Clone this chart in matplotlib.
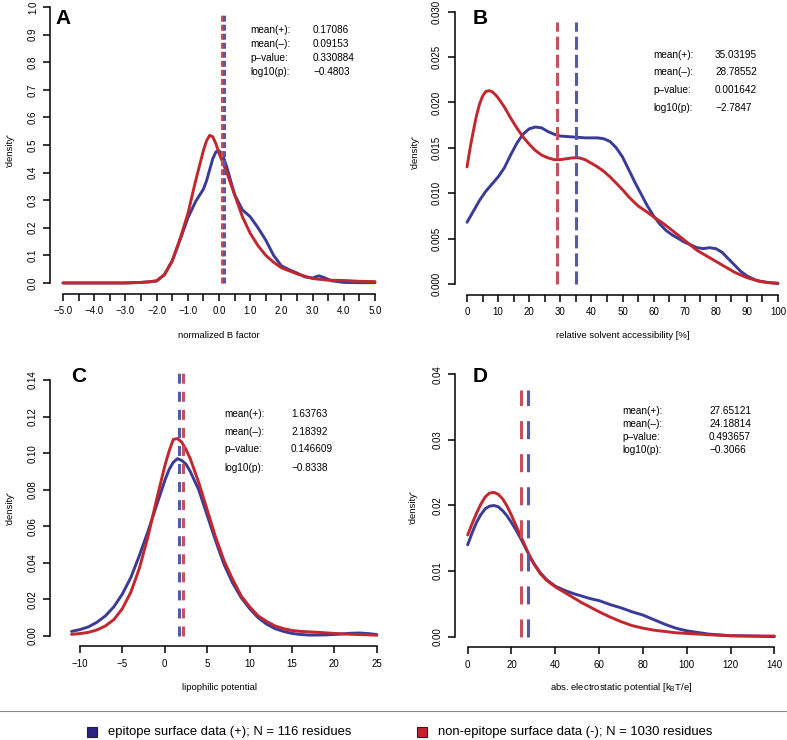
#Density comparison of epitope vs non-epitope surface residues, 4 panels
import matplotlib
matplotlib.use('Agg')
import matplotlib.pyplot as plt
from matplotlib.patches import Rectangle
from matplotlib.lines import Line2D

plt.rcParams['font.family'] = ['Liberation Sans', 'DejaVu Sans']
plt.rcParams['lines.scale_dashes'] = False

# ---- data ----
# A: normalized B factor
a_x_red = [-5, -4, -3, -2.5, -2.25, -2.0, -1.75, -1.5, -1.25, -1.0, -0.75, -0.5, -0.4, -0.3, -0.2, -0.1, 0.0,
           0.25, 0.5, 0.75, 1.0, 1.25, 1.5, 1.75, 2.0, 2.5, 3.0, 3.5, 4.0, 4.5, 5.0]
a_red = [0, 0, 0, 0.002, 0.004, 0.008, 0.03, 0.08, 0.16, 0.25, 0.37, 0.48, 0.515, 0.535, 0.53, 0.505, 0.47,
         0.40, 0.32, 0.24, 0.18, 0.135, 0.10, 0.075, 0.055, 0.033, 0.016, 0.010, 0.009, 0.006, 0.005]
a_x_blue = [-5, -4, -3, -2.5, -2.25, -2, -1.75, -1.5, -1.25, -1, -0.75, -0.5, -0.4, -0.3, -0.2, -0.1, 0, 0.1,
            0.25, 0.5, 0.75, 1.0, 1.25, 1.5, 1.75, 2.0, 2.25, 2.5, 2.75, 3.0, 3.2, 3.4, 3.6, 4.0, 4.5, 5.0]
a_blue = [0, 0, 0, 0.002, 0.004, 0.007, 0.03, 0.08, 0.155, 0.235, 0.295, 0.34, 0.37, 0.41, 0.45, 0.475, 0.478, 0.47,
          0.42, 0.32, 0.265, 0.24, 0.20, 0.155, 0.10, 0.062, 0.048, 0.036, 0.022, 0.018, 0.026, 0.018, 0.008,
          0.002, 0.001, 0.001]
a_stats = ['0.17086', '0.09153', '0.330884', '\u22120.4803']
a_means = [0.17086, 0.09153]

# B: relative solvent accessibility
b_x_red = [0, 1, 2, 3, 4, 5, 6, 7, 8, 9, 10, 12, 14, 16, 18, 20, 22, 24, 26, 28, 30, 32, 34, 36, 38, 40, 42, 44,
           46, 48, 50, 52, 55, 58, 60, 63, 66, 70, 74, 78, 82, 86, 90, 94, 97, 100]
b_red = [0.0129, 0.0150, 0.0168, 0.0185, 0.0198, 0.0207, 0.0212, 0.0213, 0.0212, 0.0209, 0.0205, 0.0195, 0.0183,
         0.0172, 0.0162, 0.0154, 0.0147, 0.0142, 0.0139, 0.0137, 0.0137, 0.0138, 0.0139, 0.0139, 0.0137, 0.0133,
         0.0129, 0.0124, 0.0118, 0.0111, 0.0104, 0.0096, 0.0086, 0.0079, 0.0074, 0.0067, 0.0059, 0.0048, 0.0037,
         0.0029, 0.0021, 0.0013, 0.0007, 0.0003, 0.00015, 0.0001]
b_x_blue = [0, 2, 4, 6, 8, 10, 12, 14, 16, 18, 20, 22, 24, 26, 28, 30, 34, 38, 42, 44, 46, 48, 50, 52, 54, 56, 58,
            60, 62, 64, 66, 68, 70, 72, 74, 76, 78, 80, 82, 84, 86, 88, 90, 93, 96, 100]
b_blue = [0.0068, 0.0080, 0.0092, 0.0102, 0.0110, 0.0118, 0.0128, 0.0142, 0.0155, 0.0165, 0.0171, 0.0173, 0.0172,
          0.0168, 0.0165, 0.0163, 0.0162, 0.0161, 0.0161, 0.0160, 0.0157, 0.0150, 0.0140, 0.0126, 0.0112, 0.0099,
          0.0086, 0.0075, 0.0066, 0.0059, 0.0054, 0.0050, 0.0046, 0.0043, 0.0040, 0.0039, 0.0040, 0.0039, 0.0035,
          0.0028, 0.0021, 0.0014, 0.0009, 0.0004, 0.0002, 0.00005]
b_stats = ['35.03195', '28.78552', '0.001642', '\u22122.7847']
b_means = [35.03195, 28.78552]

# C: lipophilic potential
c_x_red = [-11, -10, -9, -8, -7, -6, -5, -4, -3, -2, -1, 0, 0.5, 1, 1.5, 2, 2.5, 3, 4, 5, 6, 7, 8, 9, 10, 11, 12,
           13, 14, 15, 16, 18, 20, 22, 24, 25]
c_red = [0.0009, 0.0013, 0.002, 0.0033, 0.0055, 0.009, 0.015, 0.024, 0.037, 0.054, 0.074, 0.093, 0.101, 0.1075,
         0.108, 0.106, 0.102, 0.097, 0.084, 0.069, 0.054, 0.041, 0.031, 0.022, 0.016, 0.011, 0.008, 0.0055, 0.004,
         0.003, 0.0025, 0.002, 0.0014, 0.0009, 0.0006, 0.0004]
c_x_blue = [-11, -10, -9, -8, -7, -6, -5, -4, -3, -2, -1, 0, 0.5, 1, 1.5, 2, 2.5, 3, 4, 5, 6, 7, 8, 9, 10, 11, 12,
            13, 14, 15, 16, 17, 18, 19, 20, 21, 22, 23, 24, 25]
c_blue = [0.0025, 0.0035, 0.005, 0.0075, 0.011, 0.016, 0.023, 0.032, 0.044, 0.057, 0.071, 0.085, 0.091, 0.095,
          0.097, 0.096, 0.094, 0.090, 0.080, 0.066, 0.052, 0.039, 0.029, 0.021, 0.015, 0.010, 0.0065, 0.004, 0.0025,
          0.0014, 0.0008, 0.0005, 0.0005, 0.0006, 0.0008, 0.0011, 0.0015, 0.0016, 0.0013, 0.0008]
c_stats = ['1.63763', '2.18392', '0.146609', '\u22120.8338']
c_means = [1.63763, 2.18392]

# D: abs. electrostatic potential
d_x = [0, 2, 4, 6, 8, 10, 12, 14, 16, 18, 20, 22, 24, 26, 28, 30, 33, 36, 40, 44, 48, 52, 56, 60, 65, 70, 75, 80,
       85, 90, 95, 100, 110, 120, 130, 140]
d_red = [0.0155, 0.0172, 0.0188, 0.0202, 0.0213, 0.0219, 0.0220, 0.0217, 0.0210, 0.0199, 0.0185, 0.0170, 0.0155,
         0.0140, 0.0125, 0.0112, 0.0097, 0.0086, 0.0076, 0.0068, 0.0060, 0.0052, 0.0045, 0.0038, 0.0030, 0.0023,
         0.0017, 0.0013, 0.0010, 0.0008, 0.0006, 0.0005, 0.0003, 0.00015, 0.0001, 0.0001]
d_blue = [0.0140, 0.0158, 0.0174, 0.0186, 0.0195, 0.0199, 0.0200, 0.0198, 0.0192, 0.0184, 0.0174, 0.0163, 0.0151,
          0.0138, 0.0125, 0.0113, 0.0098, 0.0087, 0.0077, 0.0071, 0.0066, 0.0062, 0.0058, 0.0055, 0.0049, 0.0044,
          0.0038, 0.0033, 0.0026, 0.0019, 0.0013, 0.0009, 0.0004, 0.00015, 0.0001, 0.0]
d_stats = ['27.65121', '24.18814', '0.493657', '\u22120.3066']
d_means = [27.65121, 24.18814]

stat_names = ['mean(+):', 'mean(\u2013):', 'p\u2013value:', 'log10(p):']
legend_labels = ['epitope surface data (+); N = 116 residues', 'non-epitope surface data (-); N = 1030 residues']

BLUE = '#3a3b98'
RED = '#c1272d'
BLUE_D = '#5857a8'
RED_D = '#c2525c'

W, H = 787, 740
fig = plt.figure(figsize=(W / 100, H / 100), dpi=100)


def ftext(x, y, s, **kw):
    # place text using pixel coordinates (from top-left)
    fig.text(x / W, 1 - y / H, s, **kw)


def panel(box, xr, yr, xticks, xlabels, yticks, ylabels):
    left, right, top, bottom = box
    ax = fig.add_axes([left / W, 1 - bottom / H, (right - left) / W, (bottom - top) / H])
    dx = 0.04 * (xr[1] - xr[0])
    dy = 0.04 * (yr[1] - yr[0])
    ax.set_xlim(xr[0] - dx, xr[1] + dx)
    ax.set_ylim(yr[0] - dy, yr[1] + dy)
    ax.patch.set_alpha(0)
    for s in ['top', 'right']:
        ax.spines[s].set_visible(False)
    for s in ['left', 'bottom']:
        ax.spines[s].set_linewidth(1.1)
    ax.spines['bottom'].set_bounds(xticks[0], xticks[-1])
    ax.spines['left'].set_bounds(yticks[0], yticks[-1])
    ax.set_xticks(xticks)
    ax.set_xticklabels(xlabels)
    ax.set_yticks(yticks)
    ax.set_yticklabels(ylabels, rotation=90, va='center')
    ax.tick_params(direction='out', length=5, width=1.1, labelsize=7, pad=4)
    return ax


def draw(ax, xr_, r, xb, b, means, top, dash):
    ax.plot(xb, b, color=BLUE, lw=2.1, solid_capstyle='round', solid_joinstyle='round')
    ax.plot(xr_, r, color=RED, lw=2.1, solid_capstyle='round', solid_joinstyle='round')
    ax.vlines(means[1], 0, top, colors=RED_D, lw=2.2, linestyles=[(0, dash)])
    ax.vlines(means[0], 0, top, colors=BLUE_D, lw=2.2, linestyles=[(0, dash)])


def stats(xl, xv, ys, vals):
    for name, v, y in zip(stat_names, vals, ys):
        ftext(xl, y, name, fontsize=7.2, va='center')
        ftext(xv, y, v, fontsize=7.2, va='center')


# Panel A
a_ticks = [-5 + 0.5 * i for i in range(21)]
a_lab = ['%.1f' % t if i % 2 == 0 else '' for i, t in enumerate(a_ticks)]
a_lab = [l.replace('-', '\u2212') for l in a_lab]
axA = panel((50.5, 387.5, -4, 294), (-5, 5), (0, 1), a_ticks, a_lab,
            [i / 10 for i in range(11)], ['%.1f' % (i / 10) for i in range(11)])
draw(axA, a_x_red, a_red, a_x_blue, a_blue, a_means, 0.975, (4.3, 2.2))

# Panel B
b_ticks = list(range(0, 101, 5))
b_lab = [str(t) if t % 10 == 0 else '' for t in b_ticks]
axB = panel((454.6, 790.4, 0.8, 294.9), (0, 100), (0, 0.03), b_ticks, b_lab,
            [0.005 * i for i in range(7)], ['%.3f' % (0.005 * i) for i in range(7)])
draw(axB, b_x_red, b_red, b_x_blue, b_blue, b_means, 0.0289, (9.4, 3.6))

# Panel C
c_ticks = list(range(-10, 26, 5))
axC = panel((50.5, 389.3, 369.8, 646.2), (-12, 25), (0, 0.14), c_ticks,
            [str(t).replace('-', '\u2212') for t in c_ticks],
            [0.02 * i for i in range(8)], ['%.2f' % (0.02 * i) for i in range(8)])
draw(axC, c_x_red, c_red, c_x_blue, c_blue, c_means, 0.1455, (7.2, 5.8))

# Panel D
d_ticks = list(range(0, 141, 20))
axD = panel((455.4, 786.6, 363.8, 647.2), (0, 140), (0, 0.04), d_ticks, [str(t) for t in d_ticks],
            [0.01 * i for i in range(5)], ['%.2f' % (0.01 * i) for i in range(5)])
draw(axD, d_x, d_red, d_x, d_blue, d_means, 0.0376, (13, 10.8))

# panel letters
for x, y, s in [(55, 19, 'A'), (473, 18, 'B'), (71, 377, 'C'), (473, 377, 'D')]:
    ftext(x, y, s, fontsize=15, fontweight='bold', va='center')

# stats blocks
stats(250, 313, [30, 44, 58, 72], a_stats)
stats(653, 715, [55, 72.3, 90, 108], b_stats)
stats(224, 291, [414.3, 431.7, 449.3, 467.7], c_stats)
stats(622, 709, [411, 424.3, 437.3, 450], d_stats)

# axis titles
ftext(219, 336, 'normalized B factor', fontsize=6.8, ha='center', va='center')
ftext(622.5, 336, 'relative solvent accessibility [%]', fontsize=6.8, ha='center', va='center')
ftext(220, 688, 'lipophilic potential', fontsize=6.8, ha='center', va='center')
ftext(621, 688, r'abs. electrostatic potential [k$_{\mathregular{B}}$T/e]', fontsize=6.8, ha='center', va='center')
for x, y in [(10, 150), (415, 152), (10, 508), (413, 507)]:
    ftext(x, y, "'density'", fontsize=6.8, rotation=90, ha='center', va='center')

# separator and legend
fig.add_artist(Line2D([0, 1], [1 - 711 / H, 1 - 711 / H], transform=fig.transFigure, color='#8a8a8a', lw=0.8))
for x0, col, tx, lab in [(87, '#2b237f', 108, legend_labels[0]), (417, '#c8212a', 438, legend_labels[1])]:
    fig.add_artist(Rectangle((x0 / W, 1 - 737 / H), 10 / W, 10 / H, transform=fig.transFigure,
                             facecolor=col, edgecolor='#222222', lw=0.8))
    ftext(tx, 732, lab, fontsize=9.4, va='center')

fig.savefig('out.png', dpi=100)
